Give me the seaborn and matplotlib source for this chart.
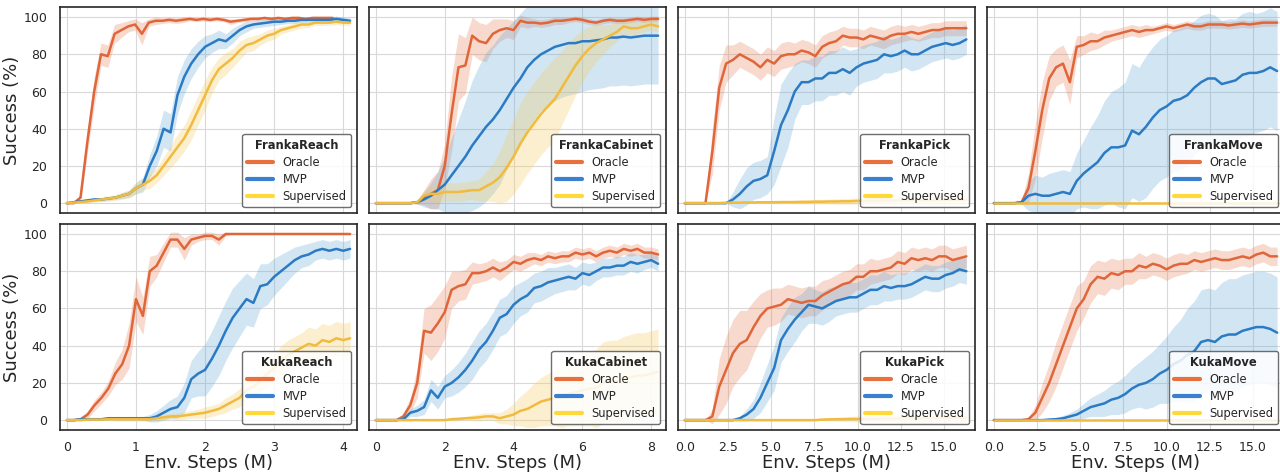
import numpy as np
import pandas as pd
import matplotlib
matplotlib.use("Agg")
import matplotlib.pyplot as plt
from matplotlib.lines import Line2D
import seaborn as sns

# ---------------- data (success %) ----------------
tasks = ["FrankaReach", "FrankaCabinet", "FrankaPick", "FrankaMove",
         "KukaReach", "KukaCabinet", "KukaPick", "KukaMove"]
methods = ["Oracle", "MVP", "Supervised"]
x_end = {"FrankaReach": 4.1, "FrankaCabinet": 8.2, "FrankaPick": 16.3, "FrankaMove": 16.4,
         "KukaReach": 4.1, "KukaCabinet": 8.2, "KukaPick": 16.3, "KukaMove": 16.4}
oracle_end_franka_reach = 3.85

# FrankaReach
fr_reach_oracle = [0, 0, 3, 33, 60, 80, 79, 91, 93, 95, 96, 91, 97, 98, 98, 98.5, 98, 98.5, 99, 98.5,
                   99, 98.5, 99, 98.5, 97.5, 98, 98.5, 99, 99, 99.5, 99, 99.5, 99, 99.5, 99.5, 99, 99.5, 99.5, 99.5, 99.5]
fr_reach_oracle_sd = [0, 0, 2, 6, 8, 6, 6, 5, 4, 3, 3, 6, 2, 2, 1.5, 1.5, 1.5, 1.5, 1, 1,
                      1, 1, 1, 1, 1.5, 1, 1, 1, 1, 1, 1, 1, 1, 1, 1, 1, 1, 1, 1, 1]
fr_reach_mvp = [0, 0.5, 1, 1.5, 2, 2, 2.5, 3, 4, 5, 8, 10, 20, 28, 40, 38, 58, 68, 75, 80, 84,
                86, 88, 87, 90, 93, 95, 96, 96.5, 97, 97.5, 97.5, 98, 98, 98.5, 98.5, 98.5, 98.5, 98.5, 99, 98.5, 98]
fr_reach_mvp_sd = [0, 0.5, 0.5, 1, 1, 1, 1, 1, 1.5, 2, 3, 4, 6, 8, 10, 10, 10, 9, 8, 7, 6,
                   5, 5, 4, 4, 3, 3, 2, 2, 2, 2, 1.5, 1.5, 1.5, 1.5, 1.5, 1.5, 1.5, 1.5, 1.5, 1.5, 1.5]
fr_reach_sup = [0, 0.3, 0.6, 1, 1.5, 2, 2.5, 3, 4, 5, 8, 10, 12, 15, 20, 25, 30, 35, 42, 50, 58,
                66, 72, 75, 78, 82, 85, 86, 88, 90, 91, 93, 94, 95, 96, 96, 97, 97, 97, 97.5, 97, 97]
fr_reach_sup_sd = [0, 0.5, 0.5, 1, 1, 1, 1.5, 1.5, 2, 2, 3, 3, 4, 4, 5, 6, 7, 7, 8, 8, 8,
                   7, 6, 6, 5, 5, 4, 4, 3, 3, 3, 2, 2, 2, 2, 1.5, 1.5, 1.5, 1.5, 1.5, 1.5, 1.5]

# FrankaCabinet
fr_cab_oracle = [0, 0, 0, 0, 0, 0, 0.5, 3, 5, 7, 20, 48, 73, 74, 90, 87, 86, 91, 93, 94, 93,
                 98, 97, 97, 96.5, 97, 98, 98, 98.5, 99, 98.5, 97.5, 97, 98, 98.5, 98, 98, 98.5, 99, 98.5, 99, 99]
fr_cab_oracle_sd = [0, 0, 0, 0, 0, 0, 1, 4, 8, 10, 12, 20, 18, 15, 10, 10, 10, 8, 6, 5, 5,
                    3, 3, 2, 2, 2, 2, 2, 1.5, 1.5, 1.5, 1.5, 1.5, 1.5, 1.5, 1.5, 1.5, 1.5, 1.5, 1.5, 1.5, 1.5]
fr_cab_mvp = [0, 0, 0, 0, 0, 0, 0.5, 2, 4, 7, 10, 15, 20, 25, 31, 36, 41, 45, 50, 56, 62,
              67, 73, 77, 80, 82, 84, 85, 86, 86, 87, 87, 87.5, 88, 89, 89, 89.5, 89, 89.5, 90, 90, 90]
fr_cab_mvp_sd = [0, 0, 0, 0, 0, 0, 1, 4, 7, 10, 15, 20, 25, 30, 35, 38, 40, 40, 40, 38, 36,
                 35, 33, 32, 30, 30, 29, 28, 28, 27, 27, 26, 26, 26, 26, 26, 26, 26, 26, 26, 26, 26]
fr_cab_sup = [0, 0, 0, 0, 0, 0, 0.5, 4, 5, 5, 6, 6, 6, 6.5, 7, 7, 9, 11, 14, 19, 25,
              32, 38, 43, 48, 52, 56, 62, 68, 74, 79, 83, 86, 88, 90, 92, 95, 94, 94, 95, 96, 95]
fr_cab_sup_sd = [0, 0, 0, 0, 0, 0, 1, 3, 4, 5, 5, 5, 5, 5, 5, 6, 8, 10, 14, 18, 20,
                 22, 22, 22, 22, 22, 22, 20, 18, 16, 14, 12, 10, 8, 6, 5, 4, 4, 3, 3, 3, 3]

# FrankaPick
fr_pick_oracle = [0, 0, 0, 0, 28, 62, 75, 77, 80, 78, 76, 73, 77, 75, 79, 80, 80, 82, 81, 79, 84,
                  86, 87, 90, 89, 89, 88, 90, 89, 88, 90, 91, 91, 92, 91, 92, 93, 93, 94, 94, 94, 94]
fr_pick_oracle_sd = [0, 0, 0, 0, 12, 12, 10, 8, 7, 7, 7, 7, 7, 7, 7, 7, 6, 6, 6, 6, 6,
                     6, 6, 5, 5, 5, 5, 5, 5, 5, 5, 5, 4, 4, 4, 4, 4, 4, 4, 4, 4, 4]
fr_pick_mvp = [0, 0, 0, 0, 0, 0, 0, 2, 5, 9, 12, 13, 15, 28, 42, 50, 60, 65, 65, 67, 67,
               70, 70, 72, 70, 73, 75, 76, 77, 80, 79, 80, 82, 80, 80, 82, 84, 85, 86, 85, 86, 88]
fr_pick_mvp_sd = [0, 0, 0, 0, 0, 0, 0, 4, 8, 10, 10, 10, 10, 18, 22, 20, 15, 12, 12, 12, 12,
                  12, 12, 12, 12, 10, 10, 10, 10, 10, 9, 9, 9, 9, 8, 8, 8, 8, 8, 8, 8, 8]
fr_pick_sup = [0, 0, 0, 0, 0, 0, 0.2, 0.3, 0.3, 0.4, 0.4, 0.5, 0.5, 0.5, 0.6, 0.6, 0.6, 0.7, 0.7, 0.8, 0.8,
               0.9, 0.9, 1, 1, 1.2, 1.2, 1.3, 1.3, 1.4, 1.4, 1.5, 1.5, 1.5, 1.6, 1.6, 1.6, 1.7, 1.7, 1.7, 1.8, 1.8]
fr_pick_sup_sd = [0, 0, 0, 0, 0, 0, 0.3, 0.4, 0.4, 0.5, 0.5, 0.6, 0.6, 0.7, 0.8, 0.8, 0.9, 1, 1, 1.1, 1.2,
                  1.3, 1.4, 1.5, 1.5, 1.6, 1.7, 1.8, 1.9, 2, 2, 2.1, 2.2, 2.2, 2.3, 2.3, 2.4, 2.4, 2.5, 2.5, 2.5, 2.5]

# FrankaMove
fr_move_oracle = [0, 0, 0, 0, 0.5, 8, 28, 50, 67, 73, 75, 65, 84, 85, 87, 87, 89, 90, 91, 92, 93,
                  92, 93, 93, 94, 95, 94, 95, 96, 95, 95, 96, 96, 96, 95.5, 96, 96.5, 96, 96.5, 97, 97, 97]
fr_move_oracle_sd = [0, 0, 0, 0, 1, 8, 15, 15, 12, 10, 10, 12, 6, 5, 5, 4, 4, 3, 3, 3, 3,
                     3, 3, 2, 2, 2, 2, 2, 2, 2, 2, 2, 2, 2, 2, 2, 2, 2, 2, 2, 2, 2]
fr_move_mvp = [0, 0, 0, 0, 0.5, 4, 5, 4, 4, 5, 6, 5, 12, 16, 19, 22, 27, 30, 30, 31, 39,
               37, 41, 46, 50, 52, 55, 56, 58, 62, 65, 67, 67, 64, 65, 66, 69, 70, 70, 71, 73, 71]
fr_move_mvp_sd = [0, 0, 0, 0, 1, 8, 10, 10, 12, 12, 12, 12, 15, 18, 22, 25, 28, 30, 32, 34, 36,
                  36, 38, 38, 38, 38, 38, 38, 38, 36, 36, 35, 34, 34, 34, 33, 33, 33, 32, 32, 32, 32]
fr_move_sup = [0] * 42
fr_move_sup_sd = [0] * 42

# KukaReach
ku_reach_oracle = [0, 0, 0.5, 3, 8, 12, 17, 25, 30, 40, 65, 56, 80, 83, 90, 97, 97, 92, 97, 98, 99,
                   99, 97, 100, 100, 100, 100, 100, 100, 100, 100, 100, 100, 100, 100, 100, 100, 100, 100, 100, 100, 100]
ku_reach_oracle_sd = [0, 0, 1, 2, 3, 3, 4, 6, 8, 12, 12, 10, 8, 6, 5, 4, 4, 6, 3, 2, 2,
                      2, 3, 1, 0, 0, 0, 0, 0, 0, 0, 0, 0, 0, 0, 0, 0, 0, 0, 0, 0, 0]
ku_reach_mvp = [0, 0, 0.5, 0.5, 0.5, 0.5, 1, 1, 1, 1, 1, 1, 1, 2, 4, 6, 7, 12, 22, 25, 27,
                33, 40, 48, 55, 60, 65, 63, 72, 73, 77, 80, 83, 86, 88, 89, 91, 92, 91, 92, 91, 92]
ku_reach_mvp_sd = [0, 0, 0.5, 0.5, 0.5, 0.5, 1, 1, 1, 1, 1, 1, 2, 3, 4, 5, 6, 8, 10, 12, 14,
                   15, 16, 16, 16, 15, 14, 13, 12, 11, 10, 9, 8, 7, 6, 6, 5, 5, 5, 5, 5, 5]
ku_reach_sup = [0, 0, 0, 0.3, 0.3, 0.3, 0.5, 0.5, 0.5, 0.5, 0.5, 0.5, 0.5, 1, 1.5, 2, 2, 2.5, 3, 3.5, 4,
                5, 6, 8, 10, 12, 16, 18, 21, 25, 28, 32, 35, 37, 39, 41, 40, 43, 42, 44, 43, 44]
ku_reach_sup_sd = [0, 0, 0, 0.5, 0.5, 0.5, 0.5, 1, 1, 1, 1, 1, 1, 1, 1.5, 1.5, 2, 2, 2, 2.5, 3,
                   3, 3, 4, 4, 5, 5, 6, 6, 7, 7, 8, 8, 8, 8, 9, 9, 9, 9, 9, 9, 9]

# KukaCabinet
ku_cab_oracle = [0, 0, 0, 0, 2, 8, 20, 48, 47, 52, 58, 70, 72, 73, 79, 79, 80, 82, 80, 82, 85,
                 84, 86, 87, 86, 88, 87, 88, 88, 90, 89, 90, 88, 90, 91, 90, 92, 91, 92, 90, 90, 89]
ku_cab_oracle_sd = [0, 0, 0, 0, 2, 4, 8, 12, 15, 15, 14, 10, 8, 8, 6, 5, 5, 5, 5, 4, 4,
                    4, 4, 3, 3, 3, 3, 3, 3, 3, 3, 3, 3, 3, 3, 3, 3, 3, 3, 3, 3, 3]
ku_cab_mvp = [0, 0, 0, 0, 0.5, 4, 5, 7, 16, 12, 18, 20, 23, 27, 32, 38, 42, 48, 55, 57, 62,
              65, 67, 71, 72, 74, 75, 76, 77, 76, 79, 78, 80, 82, 82, 83, 83, 85, 84, 85, 86, 84]
ku_cab_mvp_sd = [0, 0, 0, 0, 0.5, 2, 3, 4, 6, 6, 6, 7, 8, 9, 10, 10, 10, 10, 10, 10, 10,
                 9, 9, 8, 8, 8, 7, 7, 7, 6, 6, 6, 5, 5, 5, 5, 5, 5, 5, 4, 4, 4]
ku_cab_sup = [0, 0, 0, 0, 0, 0, 0, 0, 0, 0, 0, 0.5, 0.7, 1, 1.2, 1.5, 2, 2, 1, 2, 3,
              5, 6, 8, 10, 11, 12, 12, 14, 15, 16, 17, 17, 20, 21, 21, 22, 23, 24, 24, 25, 26]
ku_cab_sup_sd = [0, 0, 0, 0, 0, 0, 0, 0, 0, 0, 0, 1, 1, 1, 1.5, 2, 2, 2, 3, 4, 6,
                 8, 10, 12, 13, 14, 15, 16, 17, 18, 19, 20, 21, 22, 22, 22, 23, 23, 23, 23, 23, 23]

# KukaPick
ku_pick_oracle = [0, 0, 0, 0, 2, 18, 27, 36, 41, 43, 50, 56, 60, 61, 62, 65, 64, 63, 64, 64, 67,
                  69, 71, 73, 74, 77, 77, 80, 80, 81, 82, 85, 84, 87, 86, 87, 86, 88, 88, 86, 87, 88]
ku_pick_oracle_sd = [0, 0, 0, 0, 4, 15, 18, 18, 18, 16, 14, 12, 10, 10, 9, 8, 8, 8, 8, 8, 8,
                     7, 7, 7, 7, 7, 7, 7, 6, 6, 6, 6, 6, 6, 6, 6, 6, 6, 6, 6, 6, 6]
ku_pick_mvp = [0, 0, 0, 0, 0, 0, 0, 0, 1, 3, 6, 12, 20, 28, 43, 49, 54, 58, 62, 61, 60,
               62, 64, 65, 66, 66, 68, 70, 70, 72, 71, 72, 72, 73, 75, 77, 76, 76, 78, 79, 81, 80]
ku_pick_mvp_sd = [0, 0, 0, 0, 0, 0, 0, 0, 1, 3, 5, 8, 10, 12, 12, 12, 12, 10, 10, 9, 9,
                  9, 8, 8, 8, 8, 8, 8, 8, 8, 7, 7, 7, 7, 7, 7, 7, 7, 7, 7, 7, 7]
ku_pick_sup = [0, 0, 0, 0, 0, 0, 0, 0, 0, 0, 0, 0, 0, 0, 0, 0, 0, 0, 0, 0, 0.3,
               0.4, 0.5, 0.5, 0.6, 0.6, 0.7, 0.7, 0.8, 0.8, 0.9, 0.9, 1, 1, 1, 1.1, 1.1, 1.2, 1.2, 1.2, 1.3, 1.3]
ku_pick_sup_sd = [0, 0, 0, 0, 0, 0, 0, 0, 0, 0, 0, 0, 0, 0, 0, 0, 0, 0, 0, 0, 0.5,
                  0.8, 1, 1.2, 1.4, 1.6, 1.8, 2, 2, 2.2, 2.3, 2.4, 2.5, 2.6, 2.8, 3, 3, 3, 3, 3, 3, 3]

# KukaMove
ku_move_oracle = [0, 0, 0, 0, 0, 0.5, 4, 12, 20, 30, 40, 50, 60, 65, 73, 77, 76, 79, 78, 80, 80,
                  83, 82, 84, 83, 81, 83, 84, 84, 86, 85, 86, 87, 86, 86, 87, 88, 87, 89, 90, 88, 88]
ku_move_oracle_sd = [0, 0, 0, 0, 0, 1, 4, 8, 10, 12, 12, 12, 12, 10, 10, 9, 9, 8, 8, 7, 7,
                     7, 6, 6, 6, 6, 6, 6, 5, 5, 5, 5, 5, 5, 5, 5, 5, 5, 5, 5, 5, 5]
ku_move_mvp = [0, 0, 0, 0, 0, 0, 0, 0, 0.3, 0.5, 1, 2, 3, 5, 7, 8, 9, 11, 12, 14, 17,
               19, 20, 22, 25, 27, 30, 32, 35, 37, 42, 43, 42, 45, 46, 46, 48, 49, 50, 50, 49, 47]
ku_move_mvp_sd = [0, 0, 0, 0, 0, 0, 0, 0, 0.5, 1, 1.5, 2, 3, 4, 5, 6, 7, 8, 9, 10, 11,
                  12, 14, 15, 16, 18, 20, 22, 25, 27, 28, 28, 28, 29, 30, 30, 30, 30, 30, 30, 30, 30]
ku_move_sup = [0] * 42
ku_move_sup_sd = [0] * 42

series = {
    "FrankaReach": [(fr_reach_oracle, fr_reach_oracle_sd), (fr_reach_mvp, fr_reach_mvp_sd), (fr_reach_sup, fr_reach_sup_sd)],
    "FrankaCabinet": [(fr_cab_oracle, fr_cab_oracle_sd), (fr_cab_mvp, fr_cab_mvp_sd), (fr_cab_sup, fr_cab_sup_sd)],
    "FrankaPick": [(fr_pick_oracle, fr_pick_oracle_sd), (fr_pick_mvp, fr_pick_mvp_sd), (fr_pick_sup, fr_pick_sup_sd)],
    "FrankaMove": [(fr_move_oracle, fr_move_oracle_sd), (fr_move_mvp, fr_move_mvp_sd), (fr_move_sup, fr_move_sup_sd)],
    "KukaReach": [(ku_reach_oracle, ku_reach_oracle_sd), (ku_reach_mvp, ku_reach_mvp_sd), (ku_reach_sup, ku_reach_sup_sd)],
    "KukaCabinet": [(ku_cab_oracle, ku_cab_oracle_sd), (ku_cab_mvp, ku_cab_mvp_sd), (ku_cab_sup, ku_cab_sup_sd)],
    "KukaPick": [(ku_pick_oracle, ku_pick_oracle_sd), (ku_pick_mvp, ku_pick_mvp_sd), (ku_pick_sup, ku_pick_sup_sd)],
    "KukaMove": [(ku_move_oracle, ku_move_oracle_sd), (ku_move_mvp, ku_move_mvp_sd), (ku_move_sup, ku_move_sup_sd)],
}

rows = []
for task in tasks:
    for method, (mean, sd) in zip(methods, series[task]):
        end = x_end[task]
        if task == "FrankaReach" and method == "Oracle":
            end = oracle_end_franka_reach
        xs = np.linspace(0, end, len(mean))
        for xv, m, s in zip(xs, mean, sd):
            rows.append((task, method, xv, m, m - s, m + s))
df = pd.DataFrame(rows, columns=["task", "method", "step", "success", "lo", "hi"])

# ---------------- style ----------------
sns.set_theme(style="whitegrid")
plt.rcParams["font.family"] = ["DejaVu Sans"]
plt.rcParams.update({
    "axes.edgecolor": "#262626",
    "axes.linewidth": 1.2,
    "grid.color": "#d9d9d9",
    "grid.linewidth": 0.8,
    "xtick.labelsize": 9,
    "ytick.labelsize": 9,
})

line_colors = {"Oracle": "#E0663A", "MVP": "#2B7BC4", "Supervised": "#F0BB3E"}
band_colors = {"Oracle": "#E9825A", "MVP": "#6AAAD8", "Supervised": "#F5CD60"}
legend_colors = {"Oracle": "#E8703E", "MVP": "#3A80CF", "Supervised": "#FFD93A"}

xlims = [(-0.1, 4.2), (-0.2, 8.43), (-0.4, 16.8), (-0.4, 16.8)]
xticks = [[0, 1, 2, 3, 4], [0, 2, 4, 6, 8],
          [0, 2.5, 5, 7.5, 10, 12.5, 15], [0, 2.5, 5, 7.5, 10, 12.5, 15]]
xticklabels = [["0", "1", "2", "3", "4"], ["0", "2", "4", "6", "8"],
               ["0.0", "2.5", "5.0", "7.5", "10.0", "12.5", "15.0"],
               ["0.0", "2.5", "5.0", "7.5", "10.0", "12.5", "15.0"]]

fig, axes = plt.subplots(2, 4, figsize=(12.8, 4.72), dpi=100, sharey=True)
fig.subplots_adjust(left=60 / 1280, right=1284 / 1280, top=1 - 7 / 472, bottom=42 / 472,
                    wspace=0.0404, hspace=0.053)

for idx, task in enumerate(tasks):
    r, c = divmod(idx, 4)
    ax = axes[r, c]
    sub = df[df["task"] == task]
    for method in methods:
        d = sub[sub["method"] == method]
        ax.fill_between(d["step"], d["lo"], d["hi"], color=band_colors[method],
                        alpha=0.3, linewidth=0)
    sns.lineplot(data=sub, x="step", y="success", hue="method", hue_order=methods,
                 palette=line_colors, linewidth=1.8, ax=ax, legend=False,
                 errorbar=None, sort=False)
    ax.set_xlim(*xlims[c])
    ax.set_ylim(-5.3, 105.4)
    ax.set_yticks([0, 20, 40, 60, 80, 100])
    ax.set_xticks(xticks[c])
    ax.tick_params(axis="x", pad=2)
    ax.tick_params(axis="y", pad=3)
    if r == 1:
        ax.set_xticklabels(xticklabels[c])
        ax.set_xlabel("Env. Steps (M)", fontsize=13, labelpad=0)
    else:
        ax.set_xticklabels([])
        ax.set_xlabel("")
    if c == 0:
        ax.set_ylabel("Success (%)", fontsize=13, labelpad=2)
    else:
        ax.set_ylabel("")
    for sp in ax.spines.values():
        sp.set_visible(True)
        sp.set_color("#262626")
        sp.set_linewidth(1.2)
    handles = [Line2D([0], [0], color=legend_colors[m], lw=3) for m in methods]
    leg = ax.legend(handles, methods, title=task, loc="lower right", fontsize=8.3,
                    title_fontsize=8.3, frameon=True, fancybox=True, framealpha=0.85,
                    edgecolor="#555555", borderpad=0.4, labelspacing=0.35,
                    handlelength=2.3, borderaxespad=0.5)
    leg.get_title().set_fontweight("bold")
    leg.get_frame().set_linewidth(1.0)

fig.savefig("out.png", dpi=100)
